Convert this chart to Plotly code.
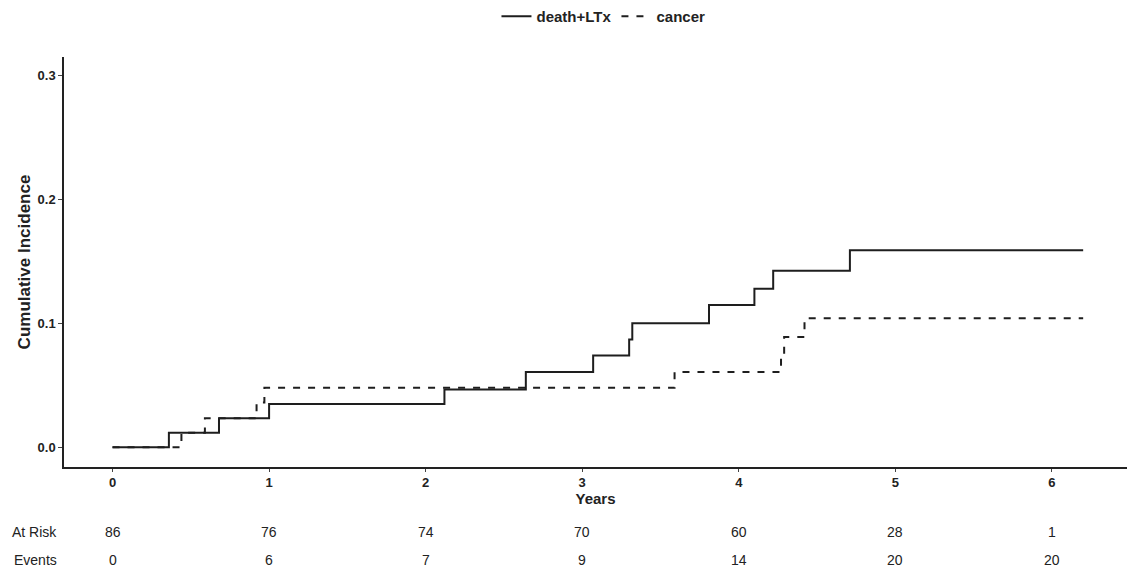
import plotly.graph_objects as go

# Cumulative incidence step curves (time in years)
death_ltx_t = [0, 0.36, 0.68, 1.00, 2.12, 2.64, 3.07, 3.30, 3.32, 3.81, 4.10, 4.22, 4.71, 6.20]
death_ltx_ci = [0, 0.0116, 0.0233, 0.0349, 0.0465, 0.0606, 0.074, 0.087, 0.100, 0.1148, 0.128, 0.1424, 0.159, 0.159]

cancer_t = [0, 0.44, 0.59, 0.92, 0.97, 3.59, 4.27, 4.29, 4.42, 6.20]
cancer_ci = [0, 0.0116, 0.0233, 0.036, 0.048, 0.0606, 0.075, 0.089, 0.104, 0.104]

# Risk table
table_years = [0, 1, 2, 3, 4, 5, 6]
at_risk = [86, 76, 74, 70, 60, 28, 1]
events = [0, 6, 7, 9, 14, 20, 20]

x_ticks = [0, 1, 2, 3, 4, 5, 6]
y_ticks = [0.0, 0.1, 0.2, 0.3]
y_tick_text = ["0.0", "0.1", "0.2", "0.3"]

FONT = "Liberation Sans"
TXT = "#222"
line_color = "#1e1e1e"

fig = go.Figure()
fig.add_trace(go.Scatter(
    x=death_ltx_t, y=death_ltx_ci, mode="lines", name="death+LTx",
    line=dict(shape="hv", color=line_color, width=2),
))
fig.add_trace(go.Scatter(
    x=cancer_t, y=cancer_ci, mode="lines", name="cancer",
    line=dict(shape="hv", color=line_color, width=2, dash="7px,8px"),
))

# risk table rows
table_font = dict(family=FONT, size=14, color=TXT)
risk_y, events_y = -0.158, -0.228
for yr, n in zip(table_years, at_risk):
    fig.add_annotation(x=yr, y=risk_y, xref="x", yref="paper", text=str(n),
                       showarrow=False, yanchor="middle", font=table_font)
for yr, n in zip(table_years, events):
    fig.add_annotation(x=yr, y=events_y, xref="x", yref="paper", text=str(n),
                       showarrow=False, yanchor="middle", font=table_font)
fig.add_annotation(x=-0.0508, y=risk_y, xref="paper", yref="paper", text="At Risk",
                   xanchor="left", yanchor="middle", showarrow=False, font=table_font)
fig.add_annotation(x=-0.049, y=events_y, xref="paper", yref="paper", text="Events",
                   xanchor="left", yanchor="middle", showarrow=False, font=table_font)

fig.update_layout(
    width=1127, height=570,
    margin=dict(l=64, r=0, t=55, b=103),
    plot_bgcolor="white", paper_bgcolor="white",
    font=dict(family=FONT, color=TXT),
    showlegend=True,
    legend=dict(orientation="h", x=0.5075, xanchor="center", y=1.1, yanchor="middle",
                itemwidth=30, font=dict(family=FONT, size=15, color=TXT, weight="bold"),
                bgcolor="rgba(0,0,0,0)"),
    xaxis=dict(
        range=[-0.31, 6.48], tickvals=x_ticks, ticktext=[f"<b>{v}</b>" for v in x_ticks],
        showgrid=False, zeroline=False, showline=True, linecolor=TXT, linewidth=1.5,
        ticks="outside", ticklen=3, tickcolor="#444", tickwidth=1,
        tickfont=dict(size=13, color=TXT),
        title=dict(text="<b>Years</b>", font=dict(size=15, color=TXT), standoff=0),
    ),
    yaxis=dict(
        range=[-0.016, 0.315], tickvals=y_ticks, ticktext=[f"<b>{t}</b>" for t in y_tick_text],
        showgrid=False, zeroline=False, showline=True, linecolor=TXT, linewidth=1.5,
        ticks="outside", ticklen=4, tickcolor="#444", tickwidth=1,
        tickfont=dict(size=13, color=TXT),
        title=dict(text="<b>Cumulative Incidence</b>", font=dict(size=17, color=TXT), standoff=3),
    ),
)

fig.write_html("out.html")
